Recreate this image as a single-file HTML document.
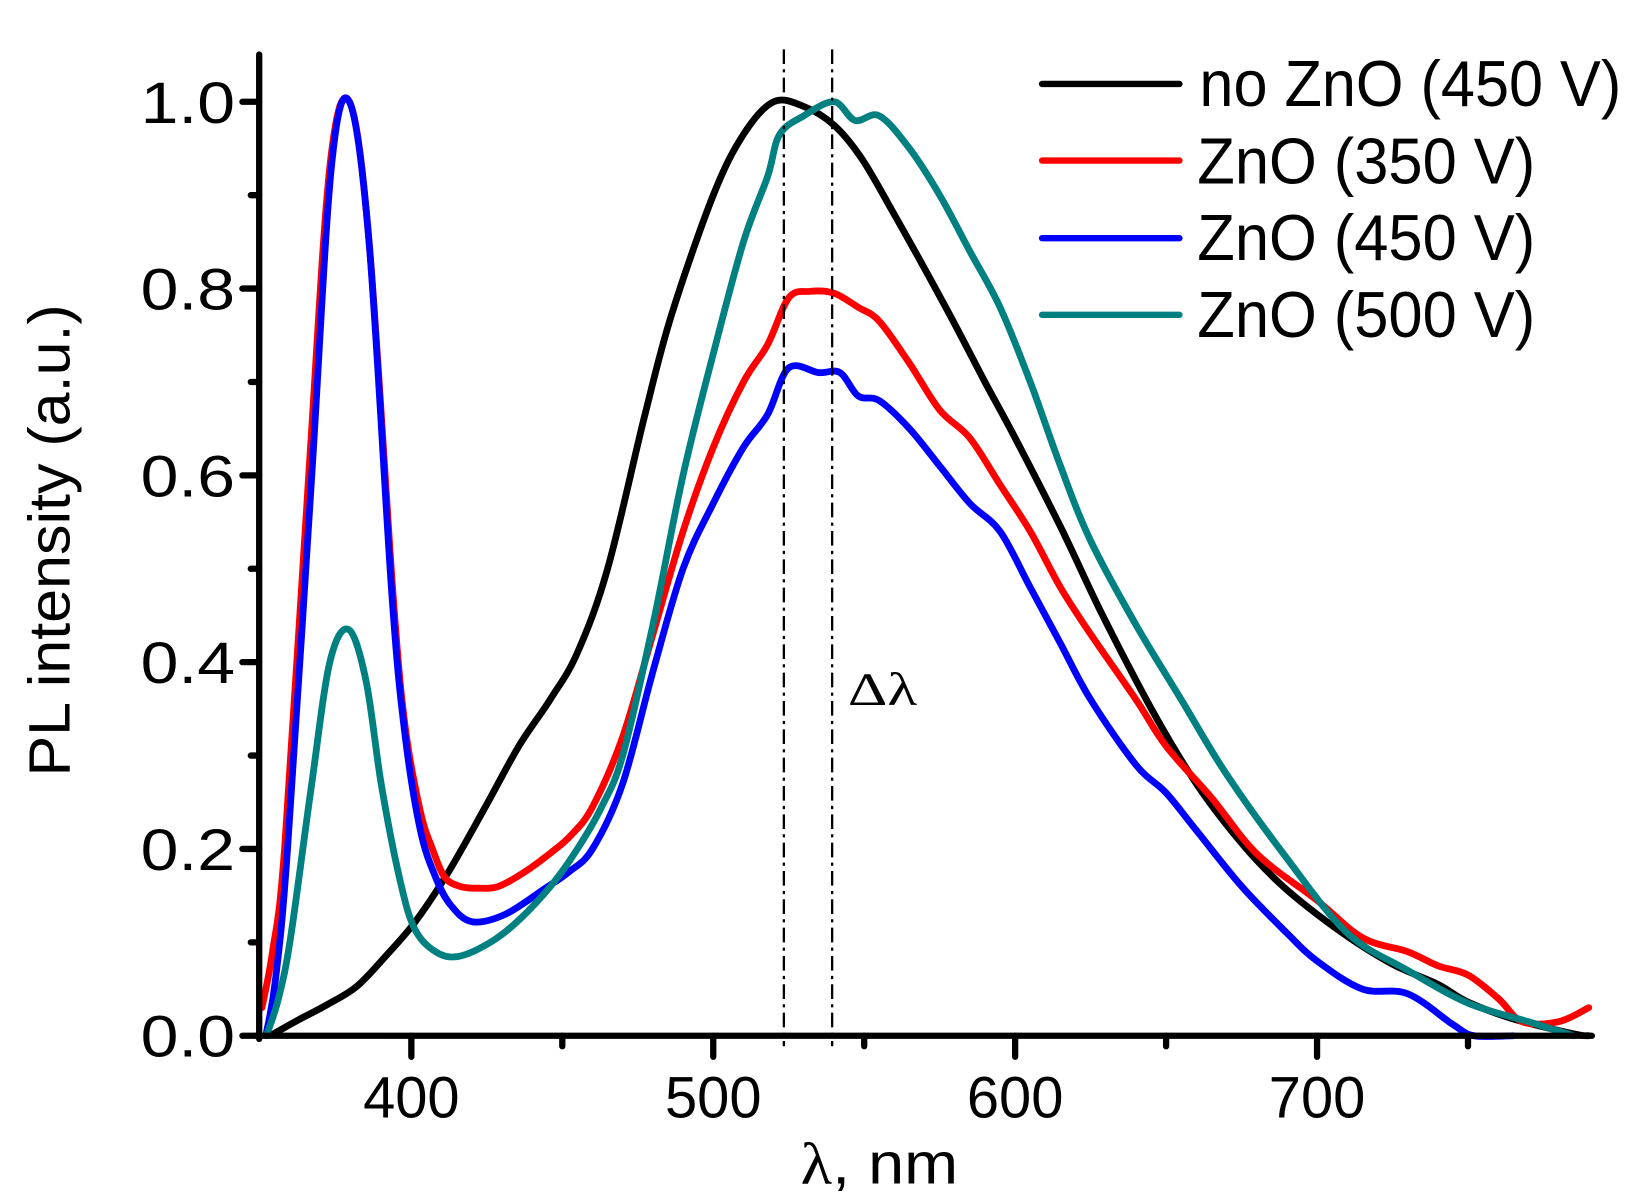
<!DOCTYPE html>
<html><head><meta charset="utf-8"><style>
html,body{margin:0;padding:0;background:#fff;}
svg{display:block;}
text{font-family:"Liberation Sans",Arial,sans-serif;fill:#000;}
</style></head><body>
<svg id="s" width="1637" height="1203" viewBox="0 0 1560 1146.4" preserveAspectRatio="none" xmlns="http://www.w3.org/2000/svg">
<g id="curves" fill="none" stroke-width="6.5" stroke-linejoin="round" stroke-linecap="round"></g>
<g stroke="#000" stroke-width="2.2" stroke-dasharray="14,5,3,5">
<line x1="747" y1="47" x2="747" y2="997"/>
<line x1="793" y1="47" x2="793" y2="997"/>
</g>
<g stroke="#000" stroke-width="6" stroke-linecap="round" fill="none" id="axes">
<line x1="247" y1="52" x2="247" y2="990"/>
<line x1="244" y1="987" x2="1517" y2="987"/>
</g>
<g font-size="56" text-anchor="end" id="ylab"></g>
<g font-size="56" text-anchor="middle" id="xlab"></g>
<text x="838" y="1128" font-size="56" text-anchor="middle" textLength="150" lengthAdjust="spacingAndGlyphs"><tspan font-family="Liberation Serif,serif">λ</tspan>, nm</text>
<text transform="translate(66,515) rotate(-90)" font-size="56" text-anchor="middle" textLength="450" lengthAdjust="spacingAndGlyphs">PL intensity (a.u.)</text>
<text x="808" y="672" font-size="44" style="font-family:'Liberation Serif',serif" textLength="66" lengthAdjust="spacingAndGlyphs">Δλ</text>
<g stroke-width="6" stroke-linecap="round">
<line x1="993" y1="80" x2="1124" y2="80" stroke="#000"/>
<line x1="993" y1="153" x2="1124" y2="153" stroke="#f00"/>
<line x1="993" y1="227" x2="1124" y2="227" stroke="#00f"/>
<line x1="993" y1="300" x2="1124" y2="300" stroke="#008080"/>
</g>
<g font-size="62">
<text x="1143" y="101" textLength="402" lengthAdjust="spacingAndGlyphs">no ZnO (450 V)</text>
<text x="1141" y="175" textLength="322" lengthAdjust="spacingAndGlyphs">ZnO (350 V)</text>
<text x="1141" y="248" textLength="322" lengthAdjust="spacingAndGlyphs">ZnO (450 V)</text>
<text x="1141" y="321" textLength="322" lengthAdjust="spacingAndGlyphs">ZnO (500 V)</text>
</g>
</svg>
<script>
var NS="http://www.w3.org/2000/svg";
function X(l){return 392+(l-400)*2.877;}
function Y(v){return 987-890*v;}
var data={
"#000":[[353.8,0.001],[362,0.016],[372,0.033],[382,0.053],[391.4,0.085],[401.3,0.122],[412.4,0.176],[424.5,0.245],[435.6,0.31],[446,0.36],[455,0.41],[465,0.50],[477,0.66],[486,0.77],[500,0.90],[510,0.965],[520,1.0],[530,0.995],[540,0.975],[549,0.94],[559,0.885],[577,0.78],[590,0.70],[600,0.64],[615,0.545],[629,0.45],[646,0.345],[660,0.27],[674,0.21],[687,0.165],[700,0.13],[713,0.10],[726,0.075],[740,0.055],[750,0.036],[765,0.018],[785,0.002],[790,0]],
"#f00":[[350.5,0.03],[354,0.09],[358,0.2],[366,0.6],[373,0.93],[379.5,1.0],[386,0.85],[394,0.47],[398,0.33],[403,0.24],[407,0.2],[411,0.17],[416,0.16],[422,0.158],[429,0.16],[437.8,0.176],[446.6,0.197],[453,0.215],[460,0.245],[470,0.32],[480,0.43],[490,0.54],[500,0.63],[510,0.70],[518,0.74],[525,0.79],[532,0.797],[540,0.795],[548,0.78],[555,0.765],[565,0.72],[575,0.67],[585,0.64],[595,0.59],[605,0.54],[615,0.48],[625,0.43],[640,0.36],[650,0.31],[665,0.255],[680,0.195],[700,0.145],[715,0.105],[730,0.09],[740,0.075],[750,0.065],[760,0.04],[768,0.015],[780,0.015],[790,0.03]],
"#00f":[[352,0.003],[355,0.06],[359,0.2],[367,0.6],[373.5,0.93],[379.5,1.0],[386,0.85],[393.6,0.47],[398,0.32],[403,0.22],[408,0.17],[413,0.14],[420.1,0.122],[431.1,0.13],[444.4,0.158],[452,0.175],[460,0.2],[470,0.27],[480,0.39],[490,0.50],[500,0.57],[510,0.63],[518,0.665],[525,0.715],[535,0.71],[542,0.71],[548,0.685],[555,0.68],[565,0.65],[575,0.61],[585,0.57],[595,0.54],[605,0.48],[615,0.42],[625,0.36],[640,0.29],[650,0.26],[660,0.22],[675,0.16],[690,0.11],[700,0.08],[715,0.05],[730,0.045],[745,0.012],[752,0],[765,0]],
"#008080":[[352,0],[356,0.04],[360,0.105],[367,0.27],[373,0.40],[379.2,0.435],[385,0.38],[390,0.27],[396,0.17],[401,0.115],[408,0.09],[415.7,0.085],[426.7,0.101],[436,0.125],[446.6,0.162],[455,0.2],[463,0.245],[470,0.30],[480,0.44],[490,0.60],[500,0.73],[510,0.85],[518,0.92],[522,0.965],[530,0.985],[540,1.0],[547,0.98],[555,0.985],[565,0.95],[575,0.90],[585,0.84],[595,0.78],[605,0.70],[615,0.61],[625,0.53],[640,0.44],[655,0.36],[670,0.28],[690,0.19],[710,0.11],[730,0.07],[750,0.035],[770,0.015],[785,0]]
};
function path(pts){
  var p=pts.map(function(a){return [X(a[0]),Y(a[1])];});
  var d="M"+p[0][0].toFixed(1)+","+p[0][1].toFixed(1);
  for(var i=0;i<p.length-1;i++){
    var p0=p[i-1]||p[i],p1=p[i],p2=p[i+1],p3=p[i+2]||p2;
    var c1x=p1[0]+(p2[0]-p0[0])/6,c1y=p1[1]+(p2[1]-p0[1])/6;
    var c2x=p2[0]-(p3[0]-p1[0])/6,c2y=p2[1]-(p3[1]-p1[1])/6;
    d+="C"+c1x.toFixed(1)+","+c1y.toFixed(1)+" "+c2x.toFixed(1)+","+c2y.toFixed(1)+" "+p2[0].toFixed(1)+","+p2[1].toFixed(1);
  }
  return d;
}
var g=document.getElementById("curves");
["#000","#f00","#00f","#008080"].forEach(function(c){
  var e=document.createElementNS(NS,"path");e.setAttribute("d",path(data[c]));e.setAttribute("stroke",c);g.appendChild(e);
});
var ax=document.getElementById("axes");
function ln(x1,y1,x2,y2){var e=document.createElementNS(NS,"line");e.setAttribute("x1",x1);e.setAttribute("y1",y1);e.setAttribute("x2",x2);e.setAttribute("y2",y2);ax.appendChild(e);}
for(var i=0;i<=10;i++){var y=Y(i/10);ln(i%2?239:231,y,247,y);}
for(var l=400;l<=750;l+=50){var x=X(l);ln(x,987,x,l%100?997:1007);}
var yl=document.getElementById("ylab");
for(var i=0;i<=5;i++){var t=document.createElementNS(NS,"text");t.setAttribute("x",224);t.setAttribute("y",Y(i*0.2)+20);t.setAttribute("textLength",90);t.setAttribute("lengthAdjust","spacingAndGlyphs");t.textContent=(i*0.2).toFixed(1);yl.appendChild(t);}
var xl=document.getElementById("xlab");
[400,500,600,700].forEach(function(l){var t=document.createElementNS(NS,"text");t.setAttribute("x",X(l));t.setAttribute("y",1065);t.setAttribute("textLength",92);t.setAttribute("lengthAdjust","spacingAndGlyphs");t.textContent=l;xl.appendChild(t);});
</script>
</body></html>
